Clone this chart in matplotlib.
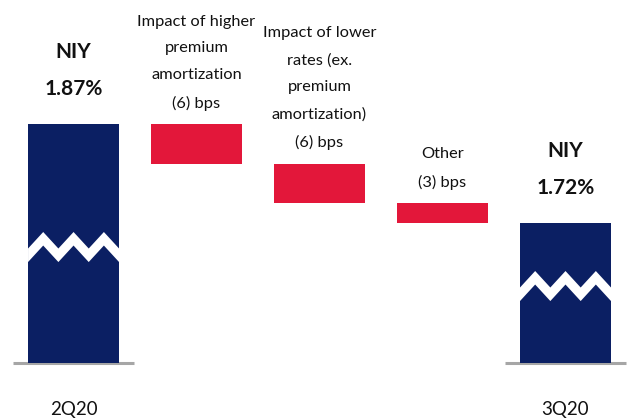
import matplotlib
matplotlib.use("Agg")
import matplotlib.pyplot as plt
from matplotlib.patches import Polygon

# --- data -------------------------------------------------------------
period_labels = ["2Q20", "3Q20"]
start_niy = 1.87          # net interest yield, %
end_niy = 1.72            # net interest yield, %
driver_labels = [
    "Impact of higher\npremium\namortization",
    "Impact of lower\nrates (ex.\npremium\namortization)",
    "Other",
]
driver_bps = [-6, -6, -3]

# --- style ------------------------------------------------------------
NAVY = "#0b1f63"
RED = "#e3173a"
GREY = "#a6a6a6"
TEXT = "#111111"
plt.rcParams["font.family"] = ["Lato", "DejaVu Sans"]

axis_floor = 1.508        # bars are drawn on a broken (truncated) scale
bar_width = 0.74
break_mid = [1.6836, 1.6245]
break_amp = 0.0250
break_thick = 0.0205

fig = plt.figure(figsize=(6.27, 4.2), dpi=100)
ax = fig.add_axes([0, 0, 1, 1])
ax.set_xlim(-0.598, 4.5)
ax.set_ylim(1.4215, 2.0579)
ax.axis("off")

positions = list(range(len(driver_bps) + 2))
total_x = [positions[0], positions[-1]]
total_vals = [start_niy, end_niy]


def draw_break(xc, mid):
    left = xc - bar_width / 2
    xs = [left + bar_width * k / 6 for k in range(7)]
    offs = [(break_amp / 2 if k % 2 else -break_amp / 2) for k in range(7)]
    upper = [(x, mid + o + break_thick / 2) for x, o in zip(xs, offs)]
    lower = [(x, mid + o - break_thick / 2) for x, o in zip(xs, offs)]
    ax.add_patch(Polygon(upper + lower[::-1], closed=True, facecolor="white",
                         edgecolor="none", zorder=3))


# totals (broken bars)
for x, v, lab, mid in zip(total_x, total_vals, period_labels, break_mid):
    ax.bar(x, v - axis_floor, bottom=axis_floor, width=bar_width,
           color=NAVY, zorder=2)
    draw_break(x, mid)
    ax.hlines(axis_floor, x - 0.495, x + 0.495, color=GREY, lw=2.2, zorder=1)
    ax.annotate(lab, (x, axis_floor), xytext=(0, -33.5), textcoords="offset points",
                ha="center", va="center", fontsize=13.5, color=TEXT)
    ax.annotate(f"NIY\n{v:.2f}%", (x, v), xytext=(0, 18), textcoords="offset points",
                ha="center", va="bottom", fontsize=15, fontweight="bold",
                color=TEXT, linespacing=2.05)

# drivers (floating red bars)
level = start_niy
for x, lab, bps in zip(positions[1:-1], driver_labels, driver_bps):
    delta = bps / 100
    ax.bar(x, -delta, bottom=level + delta, width=bar_width, color=RED, zorder=2)
    ax.annotate(f"{lab}\n({abs(bps)}) bps", (x, level), xytext=(0, 9.5),
                textcoords="offset points", ha="center", va="bottom",
                fontsize=11.8, color=TEXT, linespacing=2.15)
    level += delta

fig.savefig("out.png", dpi=100)
